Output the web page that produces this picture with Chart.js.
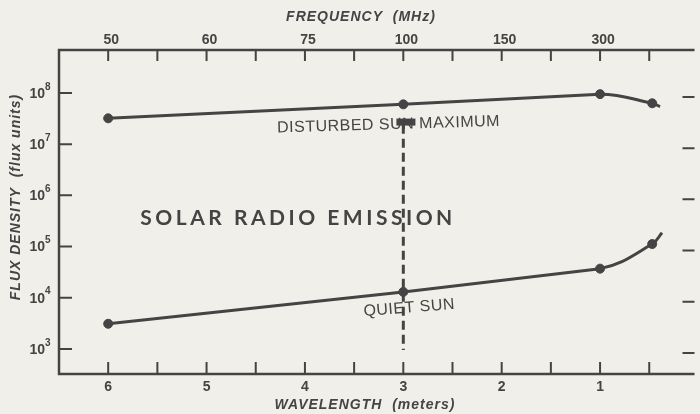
<!DOCTYPE html>
<html>
<head>
<meta charset="utf-8">
<script src="https://cdn.jsdelivr.net/npm/chart.js@4.4.0/dist/chart.umd.min.js"></script>
<style>
html, body { margin: 0; background: #f1efe9; }
#wrap { width: 700px; height: 414px; }
canvas { display: block; }
</style>
</head>
<body>
<div id="wrap"><canvas id="chart"></canvas></div>
<script>
// Values (flux units vs wavelength in meters)
const wavelengths = [6, 3, 1, 0.47];
const disturbedSun = [3.2e7, 6.0e7, 9.5e7, 6.3e7];
const quietSun = [3.1e3, 1.3e4, 3.7e4, 1.12e5];

// where each curve runs on past its last marker
const disturbedTail = [{ x: 0.39, y: 5.4e7 }];
const quietTail = [{ x: 0.37, y: 1.86e5 }];

const dashWavelength = [3, 3];
const dashFlux = [2.4e7, 9.5e2];

const wavelengthTicks = [6, 5, 4, 3, 2, 1];
const minorWavelengthTicks = [5.5, 4.5, 3.5, 2.5, 1.5, 0.5];
const frequencyLabels = ['50', '60', '75', '100', '150', '300'];
const fluxDecades = [3, 4, 5, 6, 7, 8];

const ink = '#444444';
const sans = '"Liberation Sans", Arial, sans-serif';

function toPoints(xs, ys) {
    return xs.map((x, i) => ({ x: x, y: ys[i] }));
}

// build the three pieces of one curve: markers, straight run, bent tail
function curveDatasets(name, values, tail) {
    const pts = toPoints(wavelengths, values);
    return [
        {
            label: name,
            data: pts,
            showLine: false,
            pointRadius: 4.5,
            backgroundColor: ink,
            borderColor: ink
        },
        {
            label: name + ' (line)',
            data: pts.slice(0, 3),
            borderColor: ink,
            borderWidth: 3,
            pointRadius: 0,
            tension: 0
        },
        {
            label: name + ' (tail)',
            data: pts.slice(1).concat(tail),
            borderColor: ink,
            borderWidth: 3,
            pointRadius: 0,
            tension: 0.4,
            // first segment only shapes the bend, the straight run draws it
            segment: { borderColor: c => c.p0DataIndex === 0 ? 'rgba(0,0,0,0)' : ink }
        }
    ];
}

// Frame, inward ticks and all axis text drawn against the chart's scales
const framePlugin = {
    id: 'frame',
    afterDraw(chart) {
        const ctx = chart.ctx;
        const a = chart.chartArea;
        const xs = chart.scales.x;
        const ys = chart.scales.y;
        ctx.save();
        ctx.strokeStyle = ink;
        ctx.fillStyle = ink;
        ctx.lineWidth = 2.5;
        ctx.beginPath();
        ctx.moveTo(a.right, a.top);
        ctx.lineTo(a.left, a.top);
        ctx.lineTo(a.left, a.bottom);
        ctx.lineTo(a.right, a.bottom);
        ctx.stroke();

        // x ticks, top and bottom
        ctx.lineWidth = 2;
        wavelengthTicks.concat(minorWavelengthTicks).forEach(w => {
            const px = xs.getPixelForValue(w);
            ctx.beginPath();
            ctx.moveTo(px, a.bottom);
            ctx.lineTo(px, a.bottom - 12);
            ctx.moveTo(px, a.top);
            ctx.lineTo(px, a.top + 11);
            ctx.stroke();
        });
        // y ticks, left and right
        fluxDecades.forEach(d => {
            const py = ys.getPixelForValue(Math.pow(10, d));
            ctx.beginPath();
            ctx.moveTo(a.left, py);
            ctx.lineTo(a.left + 13, py);
            ctx.moveTo(a.right, py + 4);
            ctx.lineTo(a.right - 12, py + 4);
            ctx.stroke();
        });

        // tick labels
        ctx.textAlign = 'center';
        ctx.textBaseline = 'middle';
        wavelengthTicks.forEach((w, i) => {
            const px = xs.getPixelForValue(w);
            ctx.font = 'bold 14px ' + sans;
            ctx.fillText(String(w), px, a.bottom + 13);
            ctx.fillText(frequencyLabels[i], px + 3, a.top - 10);
        });
        fluxDecades.forEach(d => {
            const py = ys.getPixelForValue(Math.pow(10, d));
            ctx.font = 'bold 14px ' + sans;
            ctx.textAlign = 'right';
            ctx.fillText('10', 45, py + 1);
            ctx.font = 'bold 10px ' + sans;
            ctx.textAlign = 'left';
            ctx.fillText(String(d), 45, py - 6);
        });

        // axis titles
        ctx.textAlign = 'center';
        ctx.font = 'italic bold 14px ' + sans;
        ctx.letterSpacing = '1px';
        ctx.fillText('FREQUENCY  (MHz)', 361, 17);
        ctx.fillText('WAVELENGTH  (meters)', 365, 405);
        ctx.save();
        ctx.translate(16, 197);
        ctx.rotate(-Math.PI / 2);
        ctx.fillText('FLUX DENSITY  (flux units)', 0, 0);
        ctx.restore();

        // in-plot labels, anchored to data coordinates
        ctx.letterSpacing = '3.5px';
        ctx.font = 'bold 21px Lato, "Open Sans", sans-serif';
        ctx.fillText('SOLAR RADIO EMISSION', xs.getPixelForValue(4.07), ys.getPixelForValue(Math.pow(10, 5.56)));

        ctx.letterSpacing = '0.5px';
        ctx.font = '16px ' + sans;
        ctx.save();
        ctx.translate(xs.getPixelForValue(3.15), ys.getPixelForValue(Math.pow(10, 7.38)));
        ctx.rotate(-0.03);
        ctx.fillText('DISTURBED SUN MAXIMUM', 0, 0);
        ctx.restore();

        ctx.save();
        ctx.translate(xs.getPixelForValue(2.94), ys.getPixelForValue(Math.pow(10, 3.8)));
        ctx.rotate(-0.08);
        ctx.fillText('QUIET SUN', 0, 0);
        ctx.restore();

        // ink blot over "UN" where the dashed marker starts
        ctx.fillRect(xs.getPixelForValue(3.07), ys.getPixelForValue(Math.pow(10, 7.5)), 19, 7);
        ctx.restore();
    }
};

new Chart(document.getElementById('chart'), {
    type: 'line',
    data: {
        datasets: [].concat(
            curveDatasets('Disturbed sun maximum', disturbedSun, disturbedTail),
            curveDatasets('Quiet sun', quietSun, quietTail),
            [{
                label: '3 m',
                data: toPoints(dashWavelength, dashFlux),
                borderColor: ink,
                borderWidth: 3,
                borderDash: [9, 5],
                pointRadius: 0
            }]
        )
    },
    options: {
        responsive: true,
        maintainAspectRatio: false,
        animation: false,
        layout: { padding: { left: 59, top: 50, right: 0, bottom: 40 } },
        plugins: {
            legend: { display: false },
            tooltip: { enabled: false }
        },
        scales: {
            x: {
                type: 'linear',
                reverse: true,
                min: 0.04,
                max: 6.5,
                display: false
            },
            y: {
                type: 'logarithmic',
                min: Math.pow(10, 2.51),
                max: Math.pow(10, 8.84),
                display: false
            }
        }
    },
    plugins: [framePlugin]
});
</script>
</body>
</html>
